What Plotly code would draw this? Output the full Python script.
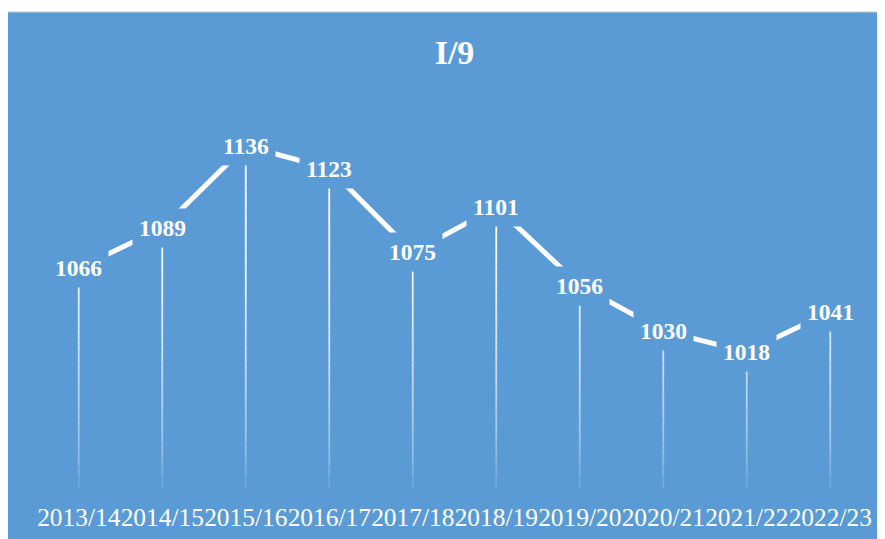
import plotly.graph_objects as go
import numpy as np

categories = ["2013/14", "2014/15", "2015/16", "2016/17", "2017/18",
              "2018/19", "2019/20", "2020/21", "2021/22", "2022/23"]
values = [1066, 1089, 1136, 1123, 1075, 1101, 1056, 1030, 1018, 1041]
title_text = "I/9"

BG = "#5B9BD5"
FONT = "Liberation Serif"
Y_MIN, Y_MAX = 940, 1162.3

fig = go.Figure()

# gradient drop lines: segments from axis bottom up to each value, fading downward
N = 30
vmax = max(values)
edges = np.linspace(Y_MIN, vmax, N + 1)
for k in range(N):
    lo, hi = edges[k], edges[k + 1]
    xs, ys = [], []
    for c, v in zip(categories, values):
        if v > lo:
            xs += [c, c, None]
            ys += [lo, min(hi, v), None]
    frac = ((lo + hi) / 2 - Y_MIN) / (vmax - Y_MIN)
    alpha = min(1.0, 1.15 * frac ** 0.55)
    fig.add_trace(go.Scatter(x=xs, y=ys, mode="lines",
                             line=dict(color=f"rgba(255,255,255,{alpha:.3f})", width=1.8),
                             hoverinfo="skip", showlegend=False))

fig.add_trace(go.Scatter(x=categories, y=values, mode="lines",
                         line=dict(color="white", width=5),
                         showlegend=False))

for c, v in zip(categories, values):
    fig.add_annotation(x=c, y=v, xref="x", yref="y", text=str(v), showarrow=False,
                       xanchor="center", yanchor="middle",
                       font=dict(family=FONT, size=23.5, color="white", weight="bold"),
                       bgcolor=BG, borderpad=6)

# chart box background
fig.add_shape(type="rect", xref="paper", yref="paper",
              x0=(-3 - 29) / 835, x1=1.1, y0=-0.3, y1=(480 - 4) / 388,
              fillcolor=BG, line=dict(color="#c8c8c8", width=1), layer="below")

fig.update_layout(
    width=885, height=539,
    margin=dict(l=29, r=21, t=92, b=59),
    paper_bgcolor="white",
    plot_bgcolor="rgba(0,0,0,0)",
    title=dict(text=title_text, x=0.5, xref="paper", xanchor="center",
               y=1 - 44 / 539, yanchor="middle",
               font=dict(family=FONT, size=34, color="white", weight="bold")),
    xaxis=dict(type="category", showgrid=False, zeroline=False, showline=False,
               ticks="", tickangle=0, ticklabelstandoff=12,
               tickfont=dict(family=FONT, size=25.4, color="white"),
               range=[-0.5, len(categories) - 0.5]),
    yaxis=dict(range=[Y_MIN, Y_MAX], showgrid=False, zeroline=False,
               showline=False, showticklabels=False, ticks=""),
)

fig.write_html("out.html")
